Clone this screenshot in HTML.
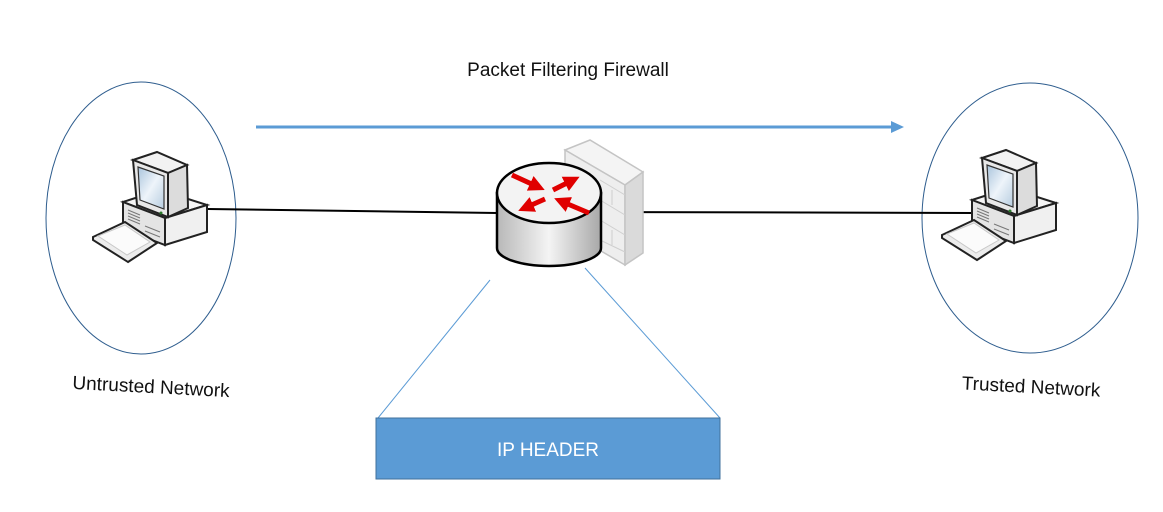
<!DOCTYPE html>
<html><head><meta charset="utf-8"><style>
html,body{margin:0;padding:0;background:#fff;}
svg{display:block;font-family:"Liberation Sans",sans-serif;}
</style></head><body>
<svg width="1163" height="512" viewBox="0 0 1163 512" xmlns="http://www.w3.org/2000/svg">
<defs>
<linearGradient id="cyl" x1="0" x2="1" y1="0" y2="0">
<stop offset="0" stop-color="#b8b8b8"/><stop offset="0.5" stop-color="#f4f4f4"/><stop offset="1" stop-color="#a8a8a8"/>
</linearGradient>
<linearGradient id="scr" x1="0" y1="0" x2="1" y2="1"><stop offset="0" stop-color="#a9c4dc"/><stop offset="0.5" stop-color="#eef4fa"/><stop offset="1" stop-color="#b7cde0"/></linearGradient>
<marker id="ah" viewBox="0 0 10 10" refX="4" refY="5" markerWidth="3.2" markerHeight="3.6" orient="auto"><path d="M0,0 L10,5 L0,10 Z" fill="#e00000"/></marker>
<g id="pc">
  <polygon points="123,202 160,190 207,205 165,218" fill="#f6f6f6" stroke="#222" stroke-width="2"/>
  <polygon points="123,202 165,218 165,245 123,229" fill="#e4e4e4" stroke="#222" stroke-width="2"/>
  <polygon points="165,218 207,205 207,232 165,245" fill="#f0f0f0" stroke="#222" stroke-width="2"/>
  <g stroke="#777" stroke-width="1"><line x1="128" y1="210" x2="140" y2="215"/><line x1="128" y1="213" x2="140" y2="218"/><line x1="128" y1="216" x2="140" y2="221"/><line x1="128" y1="219" x2="140" y2="224"/><line x1="145" y1="226" x2="160" y2="232"/><line x1="145" y1="231" x2="160" y2="237"/></g>
  <polygon points="133,160 157,152 187,165 168,173" fill="#f2f2f2" stroke="#222" stroke-width="2"/>
  <polygon points="168,173 187,165 188,208 168,217" fill="#dcdcdc" stroke="#222" stroke-width="2"/>
  <polygon points="133,160 168,173 168,217 137,205" fill="#e8e8e8" stroke="#222" stroke-width="2"/>
  <polygon points="138,167 164,176 164,209 140,200" fill="url(#scr)" stroke="#333" stroke-width="1.2"/>
  <circle cx="161" cy="213" r="1.5" fill="#2a7a2a"/>
  <polygon points="93,237 125,222 157,243 128,262 93,240" fill="#ececec" stroke="#222" stroke-width="2"/>
  <polygon points="98,236 125,225 150,242 127,255" fill="#fbfbfb" stroke="#c8c8c8" stroke-width="1"/>
</g>
</defs>

<ellipse cx="141" cy="218" rx="95" ry="136" fill="none" stroke="#2e5d8e" stroke-width="1"/>
<ellipse cx="1030" cy="218" rx="108" ry="135" fill="none" stroke="#2e5d8e" stroke-width="1"/>

<text x="568" y="76" font-size="19" text-anchor="middle" fill="#111">Packet Filtering Firewall</text>
<line x1="256" y1="127" x2="893" y2="127" stroke="#5b9bd5" stroke-width="3"/>
<polygon points="904,127 891,121 891,133" fill="#5b9bd5"/>

<line x1="208" y1="209" x2="497" y2="213" stroke="#000" stroke-width="2"/>
<line x1="603" y1="212" x2="975" y2="213" stroke="#000" stroke-width="2"/>

<use href="#pc"/>
<use href="#pc" transform="translate(849,-2)"/>

<polygon points="565,150 590,140 643,172 625,185" fill="#f4f4f4" stroke="#c4c4c4" stroke-width="1.5"/>
<polygon points="565,150 625,185 625,265 565,230" fill="#eeeeee" stroke="#c4c4c4" stroke-width="1.5"/>
<polygon points="625,185 643,172 643,253 625,265" fill="#dadada" stroke="#c4c4c4" stroke-width="1.5"/>
<g stroke="#cfcfcf" stroke-width="1"><line x1="600" y1="180" x2="625" y2="195"/><line x1="600" y1="200" x2="625" y2="215"/><line x1="600" y1="220" x2="625" y2="235"/><line x1="600" y1="240" x2="625" y2="252"/><line x1="612" y1="190" x2="612" y2="205"/><line x1="612" y1="230" x2="612" y2="245"/></g>
<path d="M497,193 L497,248 A52,18 0 0 0 601,248 L601,193 Z" fill="url(#cyl)" stroke="#000" stroke-width="2.5"/>
<ellipse cx="549" cy="193" rx="52" ry="30" fill="#f3f3f3" stroke="#000" stroke-width="2.5"/>
<g stroke="#e00000" stroke-width="5" marker-end="url(#ah)">
<line x1="512" y1="175" x2="536" y2="186"/>
<line x1="553" y1="190" x2="571" y2="181"/>
<line x1="545" y1="199" x2="527" y2="207"/>
<line x1="589" y1="213" x2="563" y2="202"/>
</g>

<line x1="490" y1="280" x2="378" y2="418" stroke="#5b9bd5" stroke-width="1"/>
<line x1="585" y1="268" x2="720" y2="418" stroke="#5b9bd5" stroke-width="1"/>
<rect x="376" y="418" width="344" height="61" fill="#5b9bd5" stroke="#41719c" stroke-width="1"/>
<text x="548" y="456" font-size="19" fill="#fff" text-anchor="middle">IP HEADER</text>

<text x="151" y="393" font-size="19" fill="#111" text-anchor="middle" transform="rotate(3 151 388)">Untrusted Network</text>
<text x="1031" y="393" font-size="19" fill="#111" text-anchor="middle" transform="rotate(3 1031 388)">Trusted Network</text>
</svg>
</body></html>
